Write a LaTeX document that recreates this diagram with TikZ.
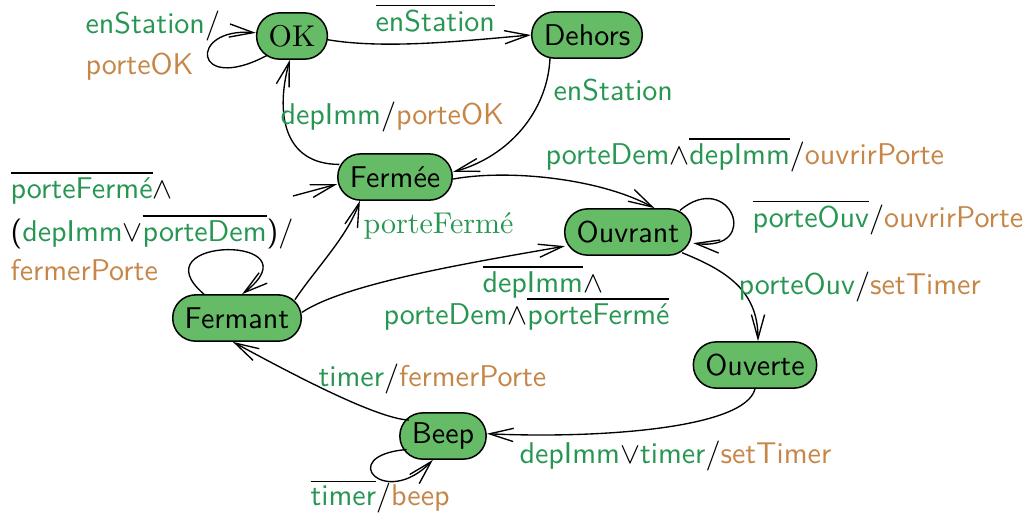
\documentclass[tikz,border=0pt]{standalone}
\usetikzlibrary{arrows.meta}
\definecolor{evgreen}{RGB}{38,150,82}
\definecolor{actbrown}{RGB}{198,134,72}
\definecolor{statefill}{RGB}{102,187,102}
\renewcommand\familydefault{\sfdefault}
% events in green, actions in brown, negated events overlined
\newcommand\evt[1]{\textcolor{evgreen}{#1}}
\newcommand\act[1]{\textcolor{actbrown}{#1}}
\newcommand\nevt[1]{$\overline{\mbox{\evt{#1}}}$}
\newcommand\slh{$/$}
\tikzset{
  state/.style={rectangle, rounded corners=7.6pt, draw=black, fill=statefill,
    line width=0.5pt, minimum height=15.4pt, inner xsep=4pt, inner ysep=1pt},
  trans/.style={-{Straight Barb[length=8pt,width=4.4pt]}, line width=0.45pt},
  lbl/.style={inner sep=0pt, anchor=base west}
}
\begin{document}
\begin{tikzpicture}[x=0.0117cm, y=-0.0117cm]
\useasboundingbox (0,0) rectangle (1028,512);

% states
\node[state] (OK)      at (292,36)  {\rmfamily OK};
\node[state] (Dehors)  at (587,35)  {Dehors};
\node[state] (Fermee)  at (395,177) {Fermée};
\node[state] (Ouvrant) at (628,232) {Ouvrant};
\node[state] (Fermant) at (237,318) {Fermant};
\node[state] (Ouverte) at (755,365) {Ouverte};
\node[state] (Beep)    at (443,436) {Beep};

% initial state marker
\coordinate (init) at (293,196);
\draw[trans] (init) -- (Fermee.187);

% transitions
\draw[trans] ([shift={(-8.2pt,-6.4pt)}]OK.center) .. controls +(-75,40) and +(-68,-6) .. (OK.175);
\draw[trans] (OK.-6) .. controls +(60,10) and +(-60,5) .. (Dehors.180);
\draw[trans] ([shift={(-12.3pt,-7.3pt)}]Dehors.center) .. controls +(-2,55) and +(55,-15) .. (Fermee.5);
\draw[trans] ([shift={(-18.5pt,4.2pt)}]Fermee.center) .. controls +(-58,0) and +(-14,50) .. (OK.265);
\draw[trans] (Fermee.-2) .. controls +(55,-10) and +(-55,-30) .. (Ouvrant.42);
\draw[trans] ([shift={(17.3pt,7.2pt)}]Ouvrant.center) .. controls +(50,-42) and +(70,9) .. ([shift={(21.7pt,-3.7pt)}]Ouvrant.center);
\draw[trans] ([shift={(18pt,-6.9pt)}]Ouvrant.center) .. controls +(45,18) and +(0,-50) .. ([xshift=1pt]Ouverte.north);
\draw[trans] (Ouverte.south) .. controls +(-10,40) and +(110,5) .. (Beep.3);
\draw[trans] ([shift={(-11.4pt,5.3pt)}]Beep.center) .. controls +(-35,-2) and +(50,27) .. (Fermant.260);
\draw[trans] ([shift={(-12.1pt,-4.5pt)}]Beep.center) .. controls +(-72,6) and +(-48,50) .. (Beep.247);
\draw[trans] ([xshift=-11pt]Fermant.north) .. controls +(-68,-58) and +(78,-60) .. ([xshift=1.7pt]Fermant.north);
\draw[trans] ([shift={(19.3pt,6.1pt)}]Fermant.center) .. controls +(20,-30) and +(-12,35) .. ([xshift=-11.7pt]Fermee.south);
\draw[trans] (Fermant.5) .. controls +(45,-30) and +(-85,15) .. ([shift={(-21pt,-4.7pt)}]Ouvrant.center);

% transition labels
\node[lbl] (l1a) at (85,33)  {\evt{enStation}\slh};
\node[lbl] (l1b) at (85,74)  {\act{porteOK}};
\node[lbl] (l2)  at (375,31) {\nevt{enStation}};
\node[lbl] (l3)  at (553,100) {\evt{enStation}};
\node[lbl] (l4)  at (280,124) {\evt{depImm}\slh\act{porteOK}};
\node[lbl] (l5)  at (545,164) {\evt{porteDem}$\wedge$\nevt{depImm}\slh\act{ouvrirPorte}};
\node[lbl] (l6)  at (752,227) {\nevt{porteOuv}\slh\act{ouvrirPorte}};
\node[lbl] (l7)  at (738,294) {\evt{porteOuv}\slh\act{setTimer}};
\node[lbl] (l8)  at (519,463) {\evt{depImm}$\vee$\evt{timer}\slh\act{setTimer}};
\node[lbl] (l9)  at (318,386) {\evt{timer}\slh\act{fermerPorte}};
\node[lbl] (l10) at (310,505) {\nevt{timer}\slh\act{beep}};
\node[lbl] (l11) at (363,233) {\rmfamily\evt{porteFermé}};
\node[lbl] (l12a) at (482,292) {\nevt{depImm}$\wedge$};
\node[lbl] (l12b) at (383,324) {\evt{porteDem}$\wedge$\nevt{porteFermé}};
\node[lbl] (l13a) at (10,198) {\nevt{porteFermé}$\wedge$};
\node[lbl] (l13b) at (10,241) {(\evt{depImm}$\vee$\nevt{porteDem})\slh};
\node[lbl] (l13c) at (10,280) {\act{fermerPorte}};
\end{tikzpicture}
\end{document}
